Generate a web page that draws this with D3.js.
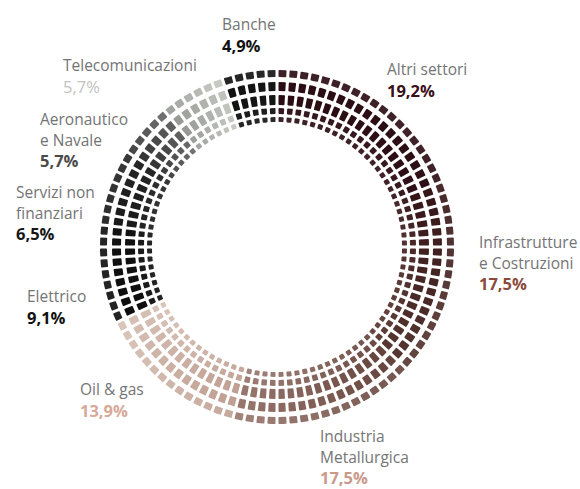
<!DOCTYPE html>
<html>
<head>
<meta charset="utf-8">
<script src="https://cdn.jsdelivr.net/npm/d3@7"></script>
<style>
  html, body { margin: 0; padding: 0; background: #fff; }
  svg { display: block; }
  text { font-family: "Open Sans", "Noto Sans", sans-serif; }
</style>
</head>
<body>
<svg id="chart" width="580" height="489"></svg>
<script>
// Sector shares (percent), clockwise from 12 o'clock
const sectors = ["Altri settori", "Infrastrutture e Costruzioni", "Industria Metallurgica",
  "Oil & gas", "Elettrico", "Servizi non finanziari", "Aeronautico e Navale",
  "Telecomunicazioni", "Banche"];
const shares = [19.2, 17.5, 17.5, 13.9, 9.1, 6.5, 5.7, 5.7, 4.9];

// Label lines as printed beside the ring
const labelLines = [
  ["Altri settori"], ["Infrastrutture", "e Costruzioni"], ["Industria", "Metallurgica"],
  ["Oil & gas"], ["Elettrico"], ["Servizi non", "finanziari"], ["Aeronautico", "e Navale"],
  ["Telecomunicazioni"], ["Banche"]
];

// Palette: each sector fades from its first to its second colour going clockwise
const colorFrom = ["#2a0c13", "#351518", "#62423b", "#c09f92", "#0e0e0e", "#191919", "#2e2e2e", "#979994", "#121212"];
const colorTo   = ["#2e1017", "#563630", "#9a786e", "#d6c0b4", "#121212", "#262626", "#6a6a6a", "#c6c8c2", "#161616"];
const valueColor = ["#3a1019", "#8a4a3c", "#c99a8a", "#d6a998", "#111111", "#161616", "#4a4a4a", "#c2c2c2", "#111111"];
const valueWeight = [700, 700, 700, 700, 700, 700, 700, 400, 700];

// Layout
const cx = 277, cy = 247;
const cellsPerRing = 100;
const rings = [ // [inner, outer] radius, lightening toward white
  {r0: 170, r1: 177, light: 0.10},
  {r0: 156, r1: 165, light: 0.0},
  {r0: 142, r1: 152, light: 0.0},
  {r0: 133, r1: 139, light: 0.05},
  {r0: 125, r1: 130, light: 0.10}
];
const labelPos = [
  {x: 387, y: 75}, {x: 479, y: 248}, {x: 320, y: 442}, {x: 80, y: 395}, {x: 27, y: 302},
  {x: 16, y: 198}, {x: 40, y: 125}, {x: 63, y: 71}, {x: 222, y: 30}
];
const lineH = 20.5;

const svg = d3.select("#chart");
const angle = d3.scaleLinear().domain([0, 100]).range([0, 2 * Math.PI]);

// cumulative bounds of each sector
const bounds = [];
let acc = 0;
shares.forEach(v => { bounds.push([acc, acc + v]); acc += v; });

function cellColor(pct, ring) {
  let k = bounds.findIndex(b => pct >= b[0] && pct < b[1]);
  if (k < 0) k = bounds.length - 1;
  const t = (pct - bounds[k][0]) / (bounds[k][1] - bounds[k][0]);
  const c = d3.interpolateLab(colorFrom[k], colorTo[k])(t);
  return d3.interpolateLab(c, "#ffffff")(ring.light);
}

const arc = d3.arc()
  .padRadius(100)
  .padAngle(0.03)
  .cornerRadius(0.8);

const step = 100 / cellsPerRing;
const cells = [];
rings.forEach(ring => {
  d3.range(cellsPerRing).forEach(i => {
    const p0 = i * step, p1 = (i + 1) * step;
    cells.push({
      innerRadius: ring.r0, outerRadius: ring.r1,
      startAngle: angle(p0), endAngle: angle(p1),
      fill: cellColor((p0 + p1) / 2, ring)
    });
  });
});

svg.append("g")
  .attr("transform", `translate(${cx},${cy})`)
  .selectAll("path")
  .data(cells)
  .join("path")
  .attr("d", arc)
  .attr("fill", d => d.fill);

// Labels
const it = d3.formatLocale({decimal: ",", thousands: ".", grouping: [3], currency: ["", "€"]});
const fmt = it.format(".1f");

const lab = svg.append("g").selectAll("g")
  .data(sectors.map((s, i) => ({i, lines: labelLines[i], value: shares[i]})))
  .join("g")
  .attr("transform", d => `translate(${labelPos[d.i].x},${labelPos[d.i].y})`);

lab.each(function(d) {
  const g = d3.select(this);
  d.lines.forEach((ln, j) => {
    g.append("text")
      .attr("y", j * lineH)
      .attr("font-size", 15.5)
      .attr("fill", "#747474")
      .text(ln);
  });
  g.append("text")
    .attr("y", d.lines.length * lineH + 1)
    .attr("font-size", 16.5)
    .attr("font-weight", valueWeight[d.i])
    .attr("fill", valueColor[d.i])
    .text(fmt(d.value) + "%");
});
</script>
</body>
</html>
